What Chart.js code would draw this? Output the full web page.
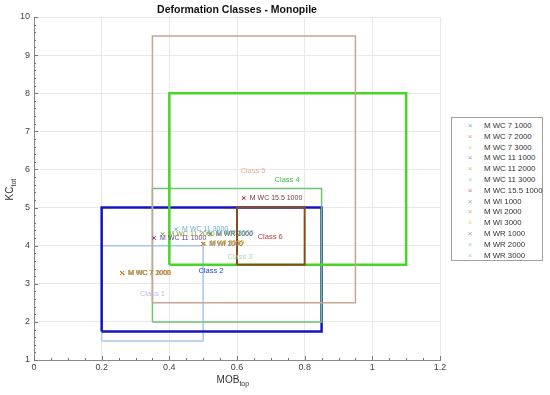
<!DOCTYPE html>
<html>
<head>
<meta charset="utf-8">
<script src="https://cdn.jsdelivr.net/npm/chart.js@4/dist/chart.umd.min.js"></script>
<style>
  body { margin: 0; background: #fff; font-family: "Liberation Sans", Arial, sans-serif; }
  #wrap { position: relative; width: 550px; height: 395px; }
  #legend { position: absolute; left: 451px; top: 117px; width: 90px; height: 142px;
    border: 1px solid #a0a0a0; background: #fff; font-size: 7.8px; color: #333; }
  .item { position: absolute; left: 0; height: 11px; line-height: 11px; white-space: nowrap; }
  .mk { position: absolute; left: 14px; width: 8px; text-align: center; font-size: 8px; }
  .lb { position: absolute; left: 32px; }
</style>
</head>
<body>
<div id="wrap">
  <canvas id="c" width="550" height="395"></canvas>
  <div id="legend"></div>
</div>
<script>
// class boxes: [xmin, xmax, ymin, ymax]
const classNames = ['Class 1', 'Class 2', 'Class 3', 'Class 4', 'Class 5', 'Class 6']
const classXMin = [0.2, 0.2, 0.35, 0.4, 0.35, 0.6]
const classXMax = [0.5, 0.85, 0.85, 1.1, 0.95, 0.8]
const classYMin = [1.5, 1.75, 2.0, 3.5, 2.5, 3.5]
const classYMax = [4.0, 5.0, 5.5, 8.0, 9.5, 5.0]
// where the class names are written
const classLabelX = [0.35, 0.523, 0.609, 0.748, 0.647, 0.698]
const classLabelY = [2.73, 3.34, 3.70, 5.72, 5.96, 4.23]

// measured points
const seriesNames = ['M WC 7 1000', 'M WC 7 2000', 'M WC 7 3000', 'M WC 11 1000', 'M WC 11 2000',
  'M WC 11 3000', 'M WC 15.5 1000', 'M WI 1000', 'M WI 2000', 'M WI 3000', 'M WR 1000', 'M WR 2000', 'M WR 3000']
const seriesX = [0.26, 0.26, 0.262, 0.355, 0.38, 0.42, 0.62, 0.5, 0.5, 0.503, 0.52, 0.52, 0.522]
const seriesY = [3.28, 3.28, 3.29, 4.2, 4.3, 4.43, 5.25, 4.05, 4.05, 4.06, 4.3, 4.3, 4.32]

const xTicks = [0, 0.2, 0.4, 0.6, 0.8, 1, 1.2]
const yTicks = [1, 2, 3, 4, 5, 6, 7, 8, 9, 10]

const boxColors = ['#aac6ea', '#1414c4', '#6cc46c', '#48d428', '#c9a393', '#8a4a1c']
const boxWidths = [1.5, 2.5, 1.5, 2.5, 1.5, 2]
const classTextColors = ['#c6b8e4', '#2446e0', '#a8d6a8', '#3cc03c', '#e2b4a4', '#c83a3a']
const pointColors = ['#0072BD', '#D95319', '#EDB120', '#7E2F8E', '#77AC30', '#4DBEEE', '#A2142F']
const pointTextColors = ['#5a7fb0', '#c08060', '#c8a020', '#5a4a7a', '#8a9a40', '#6aaee0', '#7a3a40']

const datasets = []
classNames.forEach((name, i) => {
    datasets.push({
        label: name,
        data: [
            {x: classXMin[i], y: classYMin[i]},
            {x: classXMax[i], y: classYMin[i]},
            {x: classXMax[i], y: classYMax[i]},
            {x: classXMin[i], y: classYMax[i]},
            {x: classXMin[i], y: classYMin[i]}
        ],
        showLine: true,
        borderColor: boxColors[i],
        borderWidth: boxWidths[i],
        pointRadius: 0,
        fill: false,
        tension: 0,
        order: 100 - i   // later boxes on top
    })
})
seriesNames.forEach((name, i) => {
    datasets.push({
        label: name,
        data: [{x: seriesX[i], y: seriesY[i]}],
        pointStyle: 'crossRot',
        pointRadius: 2.5,
        borderWidth: 1,
        borderColor: pointColors[i % 7],
        showLine: false,
        order: 50 - i
    })
})

// text, minor ticks, axis titles
const extras = {
    id: 'extras',
    afterDatasetsDraw(chart) {
        const ctx = chart.ctx
        const xs = chart.scales.x, ys = chart.scales.y
        const a = chart.chartArea
        ctx.save()
        // ticks inward
        ctx.strokeStyle = '#777'
        ctx.lineWidth = 1
        for (let v = 0; v <= 1.2001; v += 0.05) {
            const px = Math.round(xs.getPixelForValue(v)) + 0.5
            const major = Math.abs(v / 0.2 - Math.round(v / 0.2)) < 0.01
            ctx.beginPath()
            ctx.moveTo(px, a.bottom)
            ctx.lineTo(px, a.bottom - (major ? 4 : 2))
            ctx.stroke()
        }
        for (let v = 1; v <= 10.001; v += 0.2) {
            const py = Math.round(ys.getPixelForValue(v)) + 0.5
            const major = Math.abs(v - Math.round(v)) < 0.01
            ctx.beginPath()
            ctx.moveTo(a.left, py)
            ctx.lineTo(a.left + (major ? 4 : 2), py)
            ctx.stroke()
        }
        // class labels
        ctx.font = '7.5px "Liberation Sans", Arial'
        ctx.textAlign = 'center'
        ctx.textBaseline = 'middle'
        classNames.forEach((n, i) => {
            ctx.fillStyle = classTextColors[i]
            ctx.fillText(n, xs.getPixelForValue(classLabelX[i]), ys.getPixelForValue(classLabelY[i]))
        })
        // point labels
        ctx.textAlign = 'left'
        ctx.font = '7px "Liberation Sans", Arial'
        seriesNames.forEach((n, i) => {
            ctx.fillStyle = pointTextColors[i % 7]
            ctx.fillText(n, xs.getPixelForValue(seriesX[i]) + 6, ys.getPixelForValue(seriesY[i]))
        })
        // title
        ctx.fillStyle = '#111'
        ctx.textAlign = 'center'
        ctx.font = 'bold 10.5px "Liberation Sans", Arial'
        ctx.fillText('Deformation Classes - Monopile', (a.left + a.right) / 2, 10)
        // x title
        ctx.font = '10px "Liberation Sans", Arial'
        ctx.fillStyle = '#333'
        ctx.textAlign = 'left'
        const xt = 'MOB'
        const w = ctx.measureText(xt).width
        const cx = (a.left + a.right) / 2 - 9
        ctx.fillText(xt, cx - w / 2, 380)
        ctx.font = '7px "Liberation Sans", Arial'
        ctx.fillText('top', cx + w / 2, 384)
        // y title rotated
        ctx.translate(10, (a.top + a.bottom) / 2)
        ctx.rotate(-Math.PI / 2)
        ctx.font = '10px "Liberation Sans", Arial'
        const yw = ctx.measureText('KC').width
        ctx.fillText('KC', -yw / 2 - 5, 0)
        ctx.font = '7px "Liberation Sans", Arial'
        ctx.fillText('tot', yw / 2 - 5, 4)
        ctx.restore()
    }
}

new Chart(document.getElementById('c'), {
    type: 'scatter',
    data: {datasets: datasets},
    options: {
        responsive: false,
        animation: false,
        layout: {padding: {top: 17, right: 110, left: 0, bottom: 0}},
        plugins: {legend: {display: false}, tooltip: {enabled: false}, title: {display: false}},
        scales: {
            x: {
                min: 0, max: 1.2,
                afterFit: s => { s.height = 35 },
                afterBuildTicks: s => { s.ticks = xTicks.map(v => ({value: v})) },
                ticks: {font: {size: 9, family: '"Liberation Sans", Arial'}, color: '#444', maxRotation: 0, padding: 2,
                    callback: v => String(Math.round(v * 10) / 10)},
                grid: {color: '#e8e8e8', drawTicks: false},
                border: {color: '#888'}
            },
            y: {
                min: 1, max: 10,
                afterFit: s => { s.width = 34 },
                afterBuildTicks: s => { s.ticks = yTicks.map(v => ({value: v})) },
                ticks: {font: {size: 9, family: '"Liberation Sans", Arial'}, color: '#444', padding: 4},
                grid: {color: '#e8e8e8', drawTicks: false},
                border: {color: '#888'}
            }
        }
    },
    plugins: [extras]
})

// legend box
const legend = document.getElementById('legend')
seriesNames.forEach((name, i) => {
    const item = document.createElement('div')
    item.setAttribute('class', 'item')
    item.style.top = (2 + i * 10.8) + 'px'
    const mk = document.createElement('span')
    mk.setAttribute('class', 'mk')
    mk.style.color = pointColors[i % 7]
    mk.style.opacity = 0.6
    mk.textContent = '×'
    const lb = document.createElement('span')
    lb.setAttribute('class', 'lb')
    lb.textContent = name
    item.appendChild(mk)
    item.appendChild(lb)
    legend.appendChild(item)
})
</script>
</body>
</html>
